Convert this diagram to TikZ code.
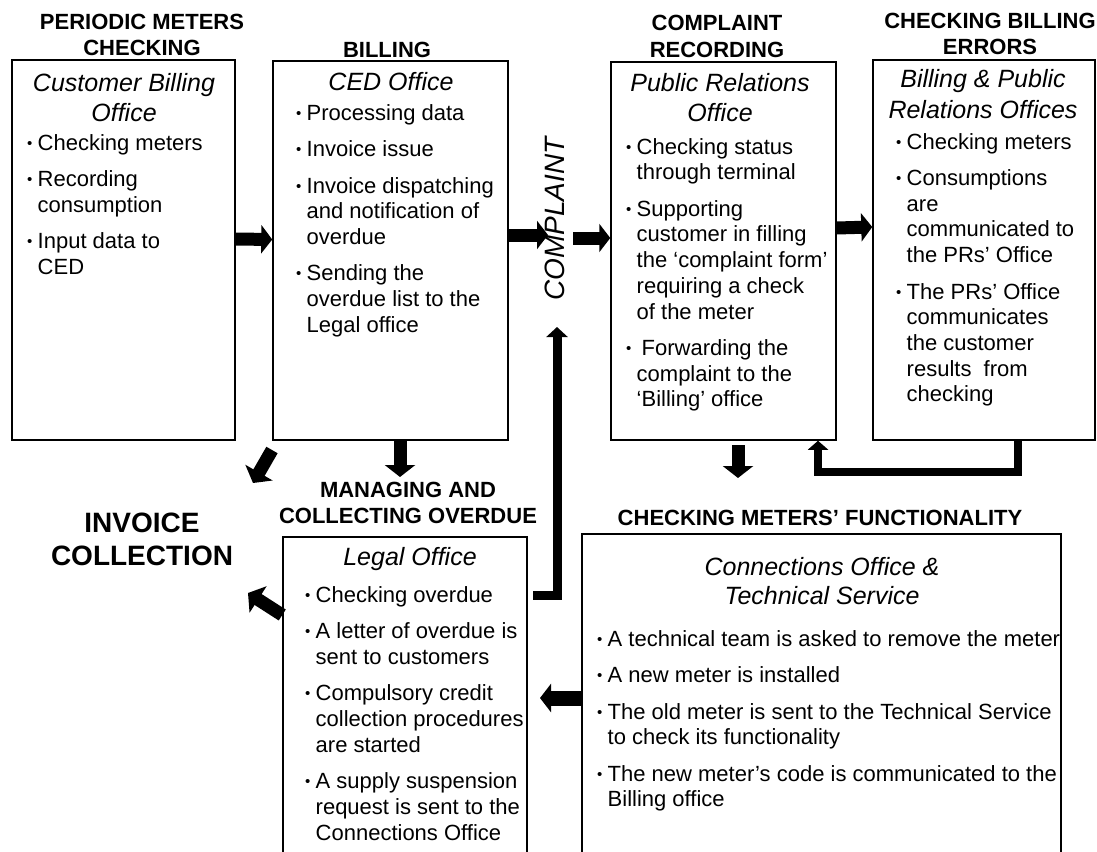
\documentclass[tikz,border=0pt]{standalone}
\usepackage{fontspec}
\setmainfont{Liberation Sans}
\usetikzlibrary{arrows.meta}
\newcommand{\bul}{\makebox[10.5pt][l]{\fontsize{15}{15}\selectfont\raisebox{2pt}{•}}}
\newcommand{\itm}[1]{\par\hangindent=10.5pt\hangafter=1\noindent\bul#1}
\newcommand{\blist}[2]{\begin{minipage}[t]{#1}\fontsize{22}{25.7}\selectfont\setlength{\parskip}{10.8pt}\setlength{\parindent}{0pt}#2\end{minipage}}
\newcommand{\stk}[1]{\begin{tabular}[t]{@{}c@{}}#1\end{tabular}}
\begin{document}
\begin{tikzpicture}[x=1pt,y=-1pt,
  box/.style={draw=black, line width=1.5pt, inner sep=0pt},
  head/.style={inner sep=0pt, anchor=base, font=\fontsize{22}{26}\selectfont\bfseries},
  ttl/.style={inner sep=0pt, anchor=base, font=\fontsize{25}{30}\selectfont\itshape},
  lst/.style={inner sep=0pt, anchor=base west},
  fat/.style={line width=13pt, -{Triangle[width=28pt,length=11pt]}},
  lconn/.style={line width=9pt, line join=miter, -{Triangle[width=21pt,length=10pt]}}]
\clip (0,0) rectangle (1097,851);
% boxes
\node[box, minimum width=223pt, minimum height=380pt] (b1) at (123.5,250) {};
\node[box, minimum width=235pt, minimum height=379pt] (b2) at (390.5,250.5) {};
\node[box, minimum width=225pt, minimum height=378pt] (b3) at (723.5,251) {};
\node[box, minimum width=222pt, minimum height=380pt] (b4) at (984,250) {};
\node[box, minimum width=244pt, minimum height=333pt] (leg) at (405,703.5) {};
\node[box, minimum width=479pt, minimum height=336pt] (con) at (821.5,702) {};
% headings
\node[head] (h1) at (142,30) {\stk{PERIODIC METERS\\CHECKING}};
\node[head] (h2) at (387,57) {BILLING};
\node[head] (h3) at (717,31) {\stk{COMPLAINT\\RECORDING}};
\node[head] (h4) at (990,29) {\stk{CHECKING BILLING\\ERRORS}};
\node[head] (h5) at (408,497) {\stk{MANAGING AND\\COLLECTING OVERDUE}};
\node[head] (h6) at (820,525) {CHECKING METERS’ FUNCTIONALITY};
\node[inner sep=0pt, anchor=base, font=\fontsize{28}{33}\selectfont\bfseries] (inv) at (142,532) {\stk{INVOICE\\COLLECTION}};
\node[inner sep=0pt, rotate=90, font=\fontsize{28}{33}\selectfont\itshape] (cmp) at (555,219) {COMPLAINT};
% titles
\node[ttl] (t1) at (124,91) {\stk{Customer Billing\\Office}};
\node[ttl] (t2) at (391,90) {CED Office};
\node[ttl] (t3) at (720,91) {\stk{Public Relations\\Office}};
\node[ttl] (t4) at (983,88) {\stk{Billing \& Public\\Relations Offices}};
\node[ttl] (t5) at (410,565) {Legal Office};
\node[ttl, font=\fontsize{25}{29}\selectfont\itshape] (t6) at (822,575) {\stk{Connections Office \&\\Technical Service}};
% bullet lists
\node[lst] (l1) at (27,150) {\blist{205pt}{%
\itm{Checking meters}
\itm{Recording\newline consumption}
\itm{Input data to\newline CED}}};
\node[lst] (l2) at (296,120) {\blist{210pt}{%
\itm{Processing data}
\itm{Invoice issue}
\itm{Invoice dispatching\newline and notification of\newline overdue}
\itm{Sending the\newline overdue list to the\newline Legal office}}};
\node[lst] (l3) at (626,154) {\blist{210pt}{%
\itm{Checking status\newline through terminal}
\itm{Supporting\newline customer in filling\newline the ‘complaint form’\newline requiring a check\newline of the meter}
\itm{\hspace{5pt}Forwarding the\newline complaint to the\newline ‘Billing’ office}}};
\node[lst] (l4) at (896,149) {\blist{195pt}{%
\itm{Checking meters}
\itm{Consumptions\newline are\newline communicated to\newline the PRs’ Office}
\itm{The PRs’ Office\newline communicates\newline the customer\newline results~ from\newline checking}}};
\node[lst] (l5) at (305,602) {\blist{220pt}{%
\itm{Checking overdue}
\itm{A letter of overdue is\newline sent to customers}
\itm{Compulsory credit\newline collection procedures\newline are started}
\itm{A supply suspension\newline request is sent to the\newline Connections Office}}};
\node[lst] (l6) at (597,646) {\blist{470pt}{%
\itm{A technical team is asked to remove the meter}
\itm{A new meter is installed}
\itm{The old meter is sent to the Technical Service\newline to check its functionality}
\itm{The new meter’s code is communicated to the\newline Billing office}}};
% connector coordinates
\coordinate (c1) at (548,235);
\coordinate (c2) at (573,238);
\coordinate (c3) at (400,477);
\coordinate (c4) at (738,478);
\coordinate (c4a) at (738,445);
\coordinate (d1) at (272,450);
\coordinate (d2) at (253,483);
\coordinate (e2) at (248,593);
\coordinate (e1) at (283,615);
\coordinate (f1) at (540,698);
\coordinate (g0) at (533,595);
\coordinate (g1) at (557,595);
\coordinate (g2) at (557,327);
\coordinate (k1) at (1018,472);
\coordinate (k2) at (818,472);
% connectors
\draw[fat] ([yshift=11pt]b1.east) -- ([yshift=11pt]b2.west);
\draw[fat] (b2.east |- c1) -- (c1);
\draw[fat] (c2) -- (c2 -| b3.west);
\draw[fat] ([yshift=23pt]b3.east) -- ([yshift=23pt]b4.west);
\draw[fat, -{Triangle[width=30pt,length=12pt]}] (b2.south -| c3) -- (c3);
\draw[fat, -{Triangle[width=30pt,length=12pt]}] (c4a) -- (c4);
\draw[fat, -{Triangle[width=31pt,length=12pt]}] (d1) -- (d2);
\draw[fat, -{Triangle[width=31pt,length=12pt]}] (leg.west |- e1) -- (e2);
\draw[fat, line width=15pt] (con.west |- f1) -- (f1);
\draw[lconn] (g0) -- (g1) -- (g2);
\draw[lconn, line width=8pt, -{Triangle[width=20pt,length=9pt]}] (b4.south -| k1) -- (k1) -- (k2) -- (k2 |- b3.south);
\end{tikzpicture}
\end{document}
